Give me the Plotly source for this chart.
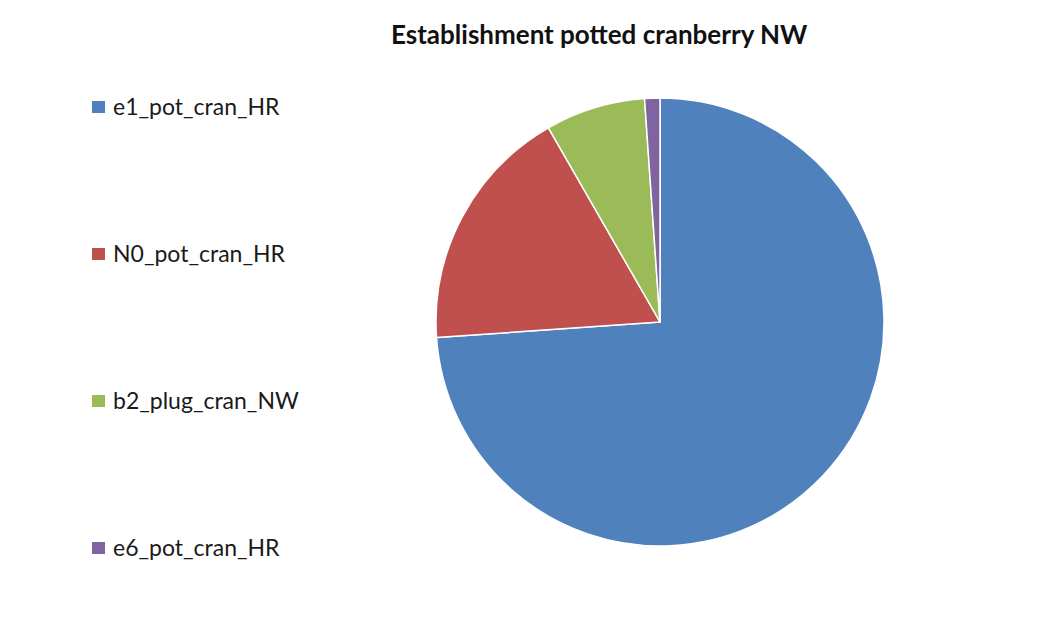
import plotly.graph_objects as go

labels = ["e1_pot_cran_HR", "N0_pot_cran_HR", "b2_plug_cran_NW", "e6_pot_cran_HR"]
values = [73.9, 17.8, 7.2, 1.1]
colors = ["#4F81BD", "#C0504D", "#9BBB59", "#8064A2"]
title = "Establishment potted cranberry NW"

OFF = 8  # default page body margin
W, H = 1057 - 2 * OFF, 635 - 2 * OFF
cx, cy, r = 660 - OFF, 322 - OFF, 224


def px(x):
    return x / W


def py(y):
    return 1 - y / H


fig = go.Figure(go.Pie(
    labels=labels, values=values, sort=False, direction="clockwise", rotation=0,
    marker=dict(colors=colors, line=dict(color="white", width=1.5)),
    textinfo="none", hoverinfo="label+value", showlegend=False,
    domain=dict(x=[px(cx - r), px(cx + r)], y=[py(cy + r), py(cy - r)]),
))

shapes = []
annotations = [dict(text="<b>" + title + "</b>", x=px(599 - OFF), y=py(34 - OFF), xref="paper", yref="paper",
                    showarrow=False, font=dict(family="Lato", size=26, color="#111111"),
                    xanchor="center", yanchor="middle")]
for i, (lab, col) in enumerate(zip(labels, colors)):
    ypix = 107 + i * 147 - OFF
    shapes.append(dict(type="rect", xref="paper", yref="paper",
                       x0=px(92 - OFF), x1=px(105 - OFF), y0=py(ypix + 6), y1=py(ypix - 6),
                       fillcolor=col, line=dict(width=0)))
    annotations.append(dict(text=lab, x=px(111 - OFF), y=py(ypix - 1), xref="paper", yref="paper",
                            showarrow=False, xanchor="left", yanchor="middle",
                            font=dict(family="Lato", size=23, color="#1a1a1a")))

fig.update_layout(width=W, height=H, margin=dict(l=0, r=0, t=0, b=0),
                  paper_bgcolor="white", plot_bgcolor="white",
                  shapes=shapes, annotations=annotations)
fig.write_html("out.html")
